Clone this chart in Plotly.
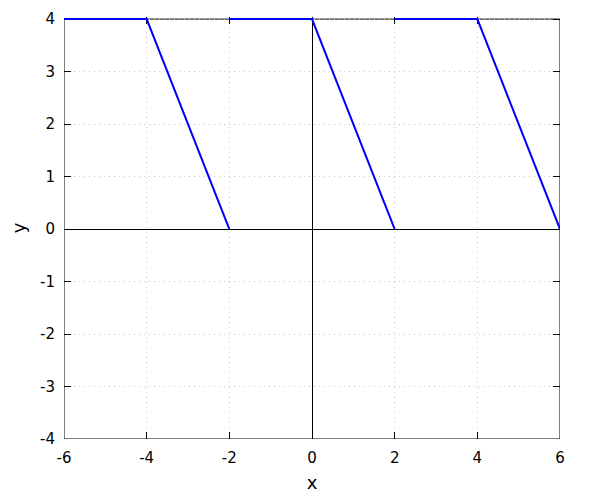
import plotly.graph_objects as go

# data: a periodic sawtooth-like function, segments separated by breaks
seg_x = [-6, -4, -2, None, -2, 0, 2, None, 2, 4, 6]
seg_y = [4, 4, 0, None, 4, 4, 0, None, 4, 4, 0]

x_ticks = [-6, -4, -2, 0, 2, 4, 6]
y_ticks = [-4, -3, -2, -1, 0, 1, 2, 3, 4]
x_range = [-6, 6]
y_range = [-4, 4]

fig = go.Figure()
fig.add_trace(go.Scatter(x=seg_x, y=seg_y, mode="lines",
                         line=dict(color="#0000ff", width=2),
                         connectgaps=False, showlegend=False))

axis_common = dict(
    showgrid=True, gridcolor="#c8c8c8", griddash="1px,4px", gridwidth=1,
    zeroline=True, zerolinecolor="black", zerolinewidth=1,
    showline=False, mirror="ticks",
    ticks="inside", ticklen=7, tickcolor="black", layer="below traces",
    tickfont=dict(family="DejaVu Sans", size=15, color="black"),
)

# plot frame drawn beneath the data line
fig.add_shape(type="rect", xref="x", yref="y",
              x0=x_range[0], x1=x_range[1], y0=y_range[0], y1=y_range[1],
              line=dict(color="black", width=1), fillcolor="rgba(0,0,0,0)", layer="below")

fig.update_layout(
    width=600, height=500,
    margin=dict(l=56, r=48, t=8.9, b=69, autoexpand=False),
    plot_bgcolor="white", paper_bgcolor="white",
    font=dict(family="DejaVu Sans", size=15, color="black"),
    xaxis=dict(range=x_range, tickvals=x_ticks, ticktext=[str(v) for v in x_ticks],
               ticklabelstandoff=8,
               title=dict(text="x", standoff=10), **axis_common),
    yaxis=dict(range=[y_range[0], y_range[1] + 0.04], tickvals=y_ticks,
               ticktext=[str(v) for v in y_ticks],
               ticklabelstandoff=8,
               title=dict(text="y", standoff=14), **axis_common),
)

fig.write_html("out.html")
